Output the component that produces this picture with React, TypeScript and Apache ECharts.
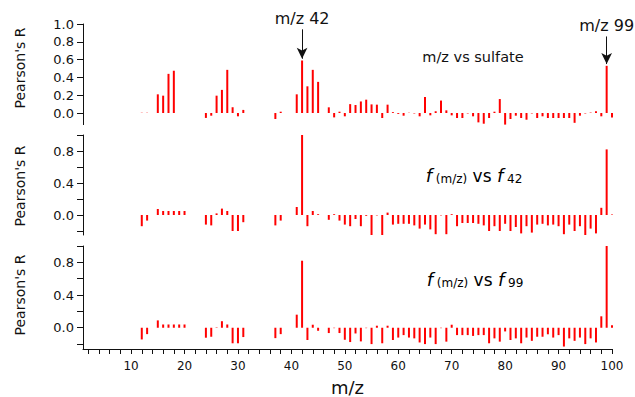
import React, { useEffect, useRef } from 'react';
import * as echarts from 'echarts';

const mz = [12,13,15,16,17,18,19,20,24,25,26,27,28,29,30,31,37,38,41,42,43,44,45,
  47,48,49,50,51,52,53,54,55,56,57,58,59,60,61,62,63,64,65,66,67,68,69,70,71,72,73,74,75,76,
  77,78,79,80,81,82,83,84,85,86,87,88,89,90,91,92,93,94,95,96,97,98,99,100];

const rSulfate = [0.003,0.003,0.21,0.195,0.44,0.475,0,0,
  -0.055,-0.03,0.195,0.26,0.485,0.065,-0.037,0.035,
  -0.067,0.015,
  0.21,0.59,0.30,0.485,0.35,
  0.064,-0.049,0.015,-0.037,0.10,0.09,0.13,0.15,0.097,0.094,
  -0.056,0.094,0.01,-0.01,-0.03,0.003,-0.005,-0.037,0.18,-0.026,
  0.02,0.14,0.03,-0.026,-0.056,-0.056,-0.005,-0.037,-0.105,-0.12,
  -0.056,0.015,0.157,-0.13,-0.067,-0.03,-0.056,-0.075,-0.005,-0.056,
  -0.037,-0.056,-0.056,-0.056,-0.056,-0.056,-0.11,-0.03,-0.005,0.005,
  0.02,-0.037,0.53,-0.049];

const rF42 = [-0.14,-0.07,0.075,0.05,0.05,0.05,0.05,0.05,
  -0.12,-0.13,0.02,0.08,0.05,-0.2,-0.2,-0.09,
  -0.13,-0.07,
  0.1,1.0,-0.14,0.05,0.01,
  -0.06,0.01,-0.07,-0.12,-0.14,-0.05,-0.14,-0.01,-0.25,-0.005,
  -0.25,0.03,-0.12,-0.11,-0.11,-0.11,-0.13,-0.17,-0.12,-0.18,
  -0.24,-0.005,-0.24,0.01,-0.14,-0.1,-0.1,-0.1,-0.11,-0.13,
  -0.2,-0.14,-0.2,-0.11,-0.2,-0.15,-0.23,-0.14,-0.22,-0.12,
  -0.11,-0.13,-0.12,-0.14,-0.24,-0.12,-0.2,-0.14,-0.26,-0.17,
  -0.23,0.09,0.82,0.005];

const rF99 = [-0.143,-0.078,0.09,0.04,0.04,0.04,0.04,0.04,
  -0.122,-0.11,0.005,0.08,0.04,-0.19,-0.19,-0.114,
  -0.127,-0.078,
  0.16,0.82,-0.15,0.037,-0.037,
  -0.065,-0.005,-0.065,-0.147,-0.175,-0.07,-0.167,-0.005,-0.2,0.025,
  -0.19,0.025,-0.15,-0.12,-0.09,-0.12,-0.13,-0.18,-0.2,-0.12,
  -0.2,-0.005,-0.17,0.037,-0.09,-0.09,-0.09,-0.1,-0.09,-0.09,
  -0.19,-0.13,-0.17,-0.045,-0.15,-0.13,-0.19,-0.12,-0.16,-0.11,
  -0.11,-0.08,-0.12,-0.09,-0.23,-0.13,-0.16,-0.12,-0.2,-0.13,
  -0.18,0.14,1.0,0.03];

const xTicks = [2,4,6,8,10,12,14,16,18,20,22,24,26,28,30,32,34,36,38,40,42,44,46,48,50,
  52,54,56,58,60,62,64,66,68,70,72,74,76,78,80,82,84,86,88,90,92,94,96,98,100];
const xLabels = [10,20,30,40,50,60,70,80,90,100];
const y1Ticks = [0,0.2,0.4,0.6,0.8,1.0];
const y2Ticks = [-0.2,0,0.2,0.4,0.6,0.8,1.0];
const y2Labels = [0,0.4,0.8];

const FONT = 'DejaVu Sans';
const INK = '#111';
const RED = '#ff0000';

export default function App() {
  const ref = useRef<HTMLDivElement>(null);
  useEffect(() => {
    if (!ref.current) return;
    const chart = echarts.init(ref.current, undefined, { renderer: 'svg' });
    const grids = [
      { left: 83, right: 23, top: 24, height: 100.6 },
      { left: 83, right: 23, top: 135, height: 100 },
      { left: 83, right: 23, top: 246, height: 103.3 },
    ];
    const yMins = [-0.13, -0.25, -0.26];
    const xAxes = [0, 1, 2].map((i) => ({
      type: 'value',
      gridIndex: i,
      min: 1,
      max: 100,
      axisLine: { show: i === 2, onZero: false, lineStyle: { color: INK, width: 1 } },
      axisTick: { show: i === 2, customValues: xTicks, length: 5, lineStyle: { color: INK } },
      axisLabel: {
        show: i === 2, customValues: xLabels, color: INK, fontFamily: FONT, fontSize: 12, margin: 11,
      },
      splitLine: { show: false },
      name: i === 2 ? 'm/z' : '',
      nameLocation: 'middle',
      nameGap: 29,
      nameTextStyle: { fontFamily: FONT, fontSize: 18, color: INK },
    }));
    const yAxes = [0, 1, 2].map((i) => ({
      type: 'value',
      gridIndex: i,
      min: yMins[i],
      max: 1.0,
      axisLine: { show: true, onZero: false, lineStyle: { color: INK, width: 1 } },
      axisTick: { show: true, customValues: i === 0 ? y1Ticks : y2Ticks, length: 6, lineStyle: { color: INK } },
      axisLabel: {
        customValues: i === 0 ? y1Ticks : y2Labels,
        formatter: (v: number) => v.toFixed(1),
        color: INK, fontFamily: FONT, fontSize: 13, margin: 9,
      },
      splitLine: { show: false },
    }));
    const arrowLine = (x: number, y0: number, y1: number, text: string) => [
      { coord: [x, y0], label: { show: true, position: 'start', formatter: text, distance: 3,
        fontFamily: FONT, fontSize: 16, color: INK } },
      { coord: [x, y1] },
    ];
    const series = [rSulfate, rF42, rF99].map((vals, i) => ({
      type: 'bar',
      xAxisIndex: i,
      yAxisIndex: i,
      barWidth: 2,
      itemStyle: { color: RED },
      data: mz.map((m, k) => [m, vals[k]]),
      markLine: i === 0 ? {
        silent: true,
        symbol: ['none', 'arrow'],
        symbolSize: [8, 11],
        lineStyle: { color: INK, width: 1, type: 'solid' },
        label: { show: true },
        data: [arrowLine(42, 0.94, 0.61, 'm/z 42'), arrowLine(99, 0.86, 0.55, 'm/z 99')],
      } : undefined,
    }));
    const fRich = {
      f: { fontFamily: FONT, fontSize: 18, fontStyle: 'italic', color: INK, lineHeight: 20, verticalAlign: 'bottom' },
      s: { fontFamily: FONT, fontSize: 12, color: INK, lineHeight: 29, verticalAlign: 'bottom' },
      n: { fontFamily: FONT, fontSize: 17, color: INK, lineHeight: 20, verticalAlign: 'bottom' },
    };
    const yTitle = (cy: number) => ({
      type: 'text', x: 20, y: cy, rotation: Math.PI / 2,
      style: { text: "Pearson's R", font: `14px "${FONT}"`, fill: INK, align: 'center', verticalAlign: 'middle' },
    });
    chart.setOption({
      animation: false,
      grid: grids,
      xAxis: xAxes,
      yAxis: yAxes,
      series,
      graphic: [
        yTitle(68), yTitle(186), yTitle(295),
        { type: 'text', x: 473, y: 57,
          style: { text: 'm/z vs sulfate', font: `14.5px "${FONT}"`, fill: INK, align: 'center', verticalAlign: 'middle' } },
        { type: 'text', x: 474, y: 170,
          style: { text: '{f|f}{s| (m/z)}{n| vs }{f|f}{s| 42}', rich: fRich, align: 'center', verticalAlign: 'middle' } },
        { type: 'text', x: 475, y: 274,
          style: { text: '{f|f}{s| (m/z)}{n| vs }{f|f}{s| 99}', rich: fRich, align: 'center', verticalAlign: 'middle' } },
      ],
    });
    return () => chart.dispose();
  }, []);
  return <div ref={ref} style={{ position: 'fixed', left: 0, top: 0, width: 635, height: 397, background: '#fff' }} />;
}
